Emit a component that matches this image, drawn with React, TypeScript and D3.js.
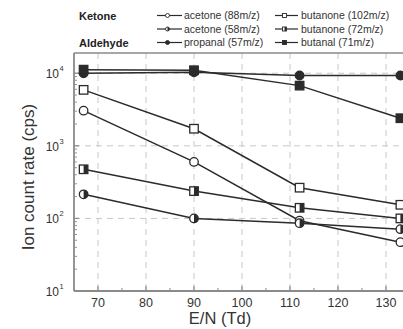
import React from 'react';
import * as d3 from 'd3';

const enValues = [67, 90, 112, 133];
const xTicks = [70, 80, 90, 100, 110, 120, 130];
const xMinorTicks = [75, 85, 95, 105, 115, 125];
const yTickExps = [1, 2, 3, 4];
const yGridValues = [100, 1000, 10000];

const acetone88 = [3050, 600, 93, 47];
const butanone102 = [5900, 1720, 265, 154];
const acetone58 = [215, 100, 86, 71];
const butanone72 = [475, 238, 140, 100];
const propanal57 = [10000, 10300, 9300, 9300];
const butanal71 = [11200, 11000, 6750, 2400];

const seriesLabels = [
  'acetone (88m/z)',
  'butanone (102m/z)',
  'acetone (58m/z)',
  'butanone (72m/z)',
  'propanal (57m/z)',
  'butanal (71m/z)',
];
const seriesValues = [acetone88, butanone102, acetone58, butanone72, propanal57, butanal71];
const seriesShapes = ['circle', 'square', 'circle', 'square', 'circle', 'square'];
const seriesFills = ['open', 'open', 'half', 'half', 'filled', 'filled'];

const W = 403;
const H = 329;
const LINE = '#2b2b2b';
const AXIS = '#8a8a8a';
const FONT = 'Liberation Sans, Arial, sans-serif';

function Marker({ cx, cy, shape, fill, size }: { cx: number; cy: number; shape: string; fill: string; size: number }) {
  const sw = size > 5 ? 1.3 : 0.9;
  if (shape === 'circle') {
    const r = size / 2;
    return (
      <g>
        <circle cx={cx} cy={cy} r={r} fill={fill === 'filled' ? LINE : '#fff'} stroke={LINE} strokeWidth={sw} />
        {fill === 'half' && (
          <path d={`M${cx},${cy - r} A${r},${r} 0 0 1 ${cx},${cy + r} Z`} fill={LINE} stroke="none" />
        )}
      </g>
    );
  }
  const h = size / 2;
  return (
    <g>
      <rect x={cx - h} y={cy - h} width={size} height={size} fill={fill === 'filled' ? LINE : '#fff'} stroke={LINE} strokeWidth={sw} />
      {fill === 'half' && <rect x={cx} y={cy - h} width={h} height={size} fill={LINE} />}
    </g>
  );
}

export default function App() {
  const left = 74;
  const bottom = 291;
  const top = 53;
  const x = d3.scaleLinear().domain([65, 135]).range([left, 410]);
  const y = d3.scaleLog().domain([10, 19000]).range([bottom, top]);
  const line = d3
    .line<number>()
    .x((_, i) => x(enValues[i]))
    .y((d) => y(d));

  const minorY: number[] = [];
  for (let e = 1; e <= 4; e++) {
    for (let k = 2; k <= 9; k++) {
      const v = k * Math.pow(10, e);
      if (v < 19000) minorY.push(v);
    }
  }

  const legendRows = [15.5, 29, 42.5];
  const legendCols = [
    { l1: 157, l2: 182, text: 184 },
    { l1: 275, l2: 298, text: 301 },
  ];

  return (
    <div style={{ position: 'absolute', left: 0, top: 0 }}>
      <svg width={W} height={H} style={{ display: 'block', background: '#fff' }} fontFamily={FONT}>
        <rect width={W} height={H} fill="#fff" />
        {/* grid */}
        {xTicks.map((t) => (
          <line key={'gx' + t} x1={x(t)} x2={x(t)} y1={top} y2={bottom} stroke="#c8c8c8" strokeWidth={1} strokeDasharray="6,5" />
        ))}
        {yGridValues.map((v) => (
          <line key={'gy' + v} x1={left} x2={W} y1={y(v)} y2={y(v)} stroke="#c8c8c8" strokeWidth={1} strokeDasharray="6,5" />
        ))}
        {/* frame */}
        <line x1={left} x2={W} y1={top} y2={top} stroke={AXIS} strokeWidth={1.5} />
        <line x1={left} x2={W} y1={bottom} y2={bottom} stroke={AXIS} strokeWidth={1.8} />
        <line x1={left} x2={left} y1={top} y2={bottom} stroke={AXIS} strokeWidth={1.8} />
        {/* x ticks */}
        {xTicks.map((t) => (
          <g key={'xt' + t}>
            <line x1={x(t)} x2={x(t)} y1={bottom} y2={bottom - 5} stroke={AXIS} strokeWidth={1.2} />
            <text x={x(t)} y={bottom + 16} textAnchor="middle" fontSize={12.5} fill="#333">
              {t}
            </text>
          </g>
        ))}
        {xMinorTicks.map((t) => (
          <line key={'xm' + t} x1={x(t)} x2={x(t)} y1={bottom} y2={bottom - 3} stroke={AXIS} strokeWidth={1} />
        ))}
        {/* y ticks */}
        {yTickExps.map((e) => (
          <g key={'yt' + e}>
            <line x1={left} x2={left + 5} y1={y(Math.pow(10, e))} y2={y(Math.pow(10, e))} stroke={AXIS} strokeWidth={1.2} />
            <text x={59} y={y(Math.pow(10, e)) + 5} textAnchor="end" fontSize={12} fill="#333">
              10
            </text>
            <text x={59.5} y={y(Math.pow(10, e)) - 2} fontSize={7.5} fill="#333">
              {e}
            </text>
          </g>
        ))}
        {minorY.map((v) => (
          <line key={'ym' + v} x1={left} x2={left + 3} y1={y(v)} y2={y(v)} stroke={AXIS} strokeWidth={0.9} />
        ))}
        {/* axis titles */}
        <text x={220} y={324} textAnchor="middle" fontSize={16.5} fill="#333">
          E/N (Td)
        </text>
        <text transform={`translate(34,177) rotate(-90)`} textAnchor="middle" fontSize={17} fill="#333">
          Ion count rate (cps)
        </text>
        {/* lines */}
        {seriesValues.map((vals, i) => (
          <path key={'l' + i} d={line(vals) || ''} fill="none" stroke={LINE} strokeWidth={1.5} />
        ))}
        {/* markers */}
        {seriesValues.map((vals, i) =>
          vals.map((v, j) => (
            <Marker key={'m' + i + '-' + j} cx={x(enValues[j])} cy={y(v)} shape={seriesShapes[i]} fill={seriesFills[i]} size={8.5} />
          ))
        )}
        {/* legend */}
        <text x={79} y={legendRows[0] + 4} fontSize={11} fontWeight="bold" fill="#222">
          Ketone
        </text>
        <text x={79} y={legendRows[2] + 4} fontSize={11} fontWeight="bold" fill="#222">
          Aldehyde
        </text>
        {seriesLabels.map((lab, i) => {
          const row = Math.floor(i / 2);
          const col = legendCols[i % 2];
          const ly = legendRows[row];
          const mx = (col.l1 + col.l2) / 2 - 2;
          return (
            <g key={'lg' + i}>
              <line x1={col.l1} x2={col.l2} y1={ly} y2={ly} stroke={LINE} strokeWidth={1.2} />
              <Marker cx={mx} cy={ly} shape={seriesShapes[i]} fill={seriesFills[i]} size={4} />
              <text x={col.text} y={ly + 3.8} fontSize={10.5} fill="#333">
                {lab}
              </text>
            </g>
          );
        })}
      </svg>
    </div>
  );
}
